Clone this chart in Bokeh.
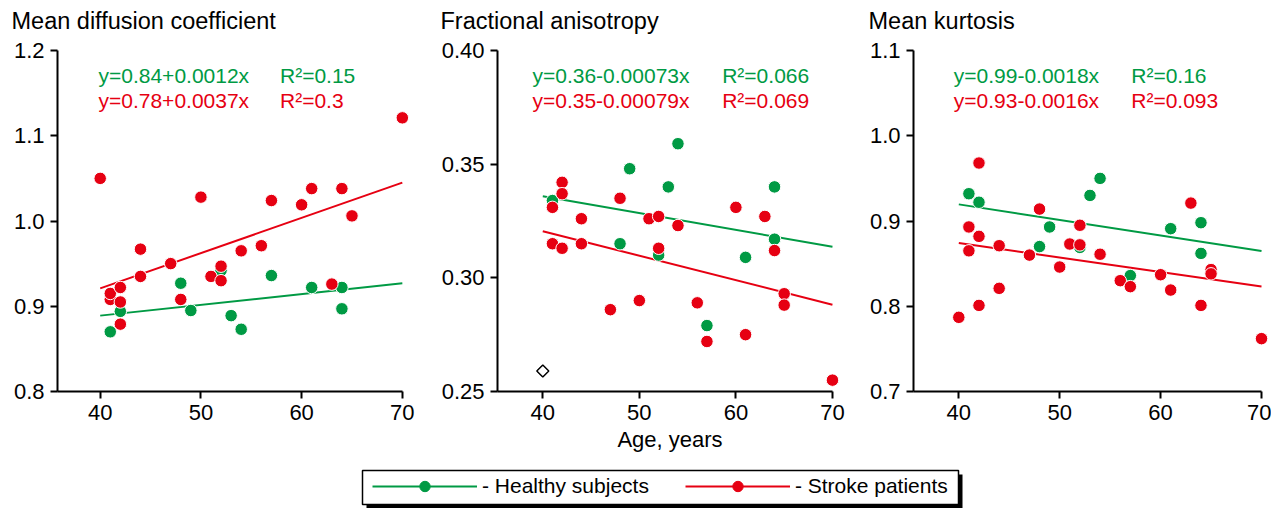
from bokeh.plotting import figure
from bokeh.models import Range1d, FixedTicker, Label, Legend, LegendItem, BoxAnnotation
from bokeh.layouts import row, column
from bokeh.embed import file_html
from bokeh.resources import INLINE

FONT = "Liberation Sans"
GREEN = "#009a44"
RED = "#e60012"

titles = ["Mean diffusion coefficient", "Fractional anisotropy", "Mean kurtosis"]

age_ticks = [40, 50, 60, 70]
age_tick_labels = ["40", "50", "60", "70"]
fit_age = [40, 70]

# ---- Mean diffusion coefficient ----
md_ticks = [0.8, 0.9, 1.0, 1.1, 1.2]
md_tick_labels = ["0.8", "0.9", "1.0", "1.1", "1.2"]
md_healthy_age = [41, 42, 48, 49, 52, 53, 54, 57, 61, 64, 64]
md_healthy = [0.870, 0.894, 0.927, 0.895, 0.942, 0.889, 0.873, 0.936, 0.922, 0.922, 0.897]
md_stroke_age = [40, 41, 41, 42, 42, 42, 44, 44, 47, 48, 50, 51, 52, 52, 54, 56, 57, 60, 61, 63, 64, 65, 70]
md_stroke = [1.050, 0.908, 0.915, 0.922, 0.905, 0.879, 0.967, 0.935, 0.950, 0.908, 1.028, 0.935,
             0.947, 0.930, 0.965, 0.971, 1.024, 1.019, 1.038, 0.926, 1.038, 1.006, 1.121]
md_fit_healthy = [0.889, 0.927]
md_fit_stroke = [0.921, 1.045]
md_eq = ["y=0.84+0.0012x", "y=0.78+0.0037x"]
md_r2 = ["R\u00b2=0.15", "R\u00b2=0.3"]

# ---- Fractional anisotropy ----
fa_ticks = [0.25, 0.30, 0.35, 0.40]
fa_tick_labels = ["0.25", "0.30", "0.35", "0.40"]
fa_healthy_age = [41, 48, 49, 52, 53, 54, 57, 61, 64, 64]
fa_healthy = [0.334, 0.315, 0.348, 0.310, 0.340, 0.359, 0.279, 0.309, 0.340, 0.317]
fa_stroke_age = [41, 41, 42, 42, 42, 44, 44, 47, 48, 50, 51, 52, 52, 54, 56, 57, 60, 61, 63, 64, 65, 65, 70]
fa_stroke = [0.331, 0.315, 0.342, 0.337, 0.313, 0.326, 0.315, 0.286, 0.335, 0.290, 0.326, 0.327,
             0.313, 0.323, 0.289, 0.272, 0.331, 0.275, 0.327, 0.312, 0.293, 0.288, 0.255]
fa_fit_healthy = [0.3359, 0.3137]
fa_fit_stroke = [0.3205, 0.2882]
fa_outlier_age = [40]
fa_outlier = [0.259]
fa_eq = ["y=0.36-0.00073x", "y=0.35-0.00079x"]
fa_r2 = ["R\u00b2=0.066", "R\u00b2=0.069"]

# ---- Mean kurtosis ----
mk_ticks = [0.7, 0.8, 0.9, 1.0, 1.1]
mk_tick_labels = ["0.7", "0.8", "0.9", "1.0", "1.1"]
mk_healthy_age = [41, 42, 48, 49, 52, 53, 54, 57, 61, 64, 64]
mk_healthy = [0.932, 0.922, 0.870, 0.893, 0.869, 0.930, 0.950, 0.836, 0.891, 0.898, 0.862]
mk_stroke_age = [40, 41, 41, 42, 42, 42, 44, 44, 47, 48, 50, 51, 52, 52, 54, 56, 57, 60, 61, 63, 64, 65, 65, 70]
mk_stroke = [0.787, 0.893, 0.865, 0.968, 0.882, 0.801, 0.871, 0.821, 0.860, 0.914, 0.846, 0.873,
             0.895, 0.872, 0.861, 0.830, 0.823, 0.837, 0.819, 0.921, 0.801, 0.843, 0.838, 0.762]
mk_fit_healthy = [0.9195, 0.8647]
mk_fit_stroke = [0.8741, 0.8233]
mk_eq = ["y=0.99-0.0018x", "y=0.93-0.0016x"]
mk_r2 = ["R\u00b2=0.16", "R\u00b2=0.093"]

legend_labels = ["- Healthy subjects", "- Stroke patients"]

TOTAL_W = 1271
TITLE_H = 38
FRAME_H = 341
TOP_B = 12
FIG_H = 417


def make_panel(width, mbl, mbr, xr, yr, yticks, ylabels,
               h_age, h_val, s_age, s_val, fit_h, fit_s, eqs, r2s, eq_x, r2_x, xlabel=None):
    p = figure(width=width, height=FIG_H, x_range=Range1d(*xr), y_range=Range1d(*yr),
               toolbar_location=None, output_backend="svg",
               min_border_left=mbl, min_border_right=mbr, min_border_top=TOP_B,
               min_border_bottom=FIG_H - TOP_B - FRAME_H)
    p.grid.visible = False
    p.outline_line_color = None
    p.background_fill_color = "white"
    p.border_fill_color = "white"

    p.xaxis.ticker = FixedTicker(ticks=age_ticks)
    p.xaxis.major_label_overrides = dict(zip(age_ticks, age_tick_labels))
    p.xaxis.bounds = (xr[0], 70)
    p.yaxis.ticker = FixedTicker(ticks=yticks)
    p.yaxis.major_label_overrides = dict(zip(yticks, ylabels))
    for ax in (p.xaxis, p.yaxis):
        ax.axis_line_width = 2
        ax.axis_line_color = "black"
        ax.major_tick_line_width = 2
        ax.major_tick_line_color = "black"
        ax.major_tick_out = 7
        ax.major_tick_in = 0
        ax.minor_tick_line_color = None
        ax.major_label_text_font = FONT
        ax.major_label_text_font_size = "22px"
        ax.major_label_text_color = "black"
        ax.major_label_standoff = 6
    if xlabel:
        p.xaxis.axis_label = xlabel
        p.xaxis.axis_label_text_font = FONT
        p.xaxis.axis_label_text_font_size = "22px"
        p.xaxis.axis_label_text_font_style = "normal"
        p.xaxis.axis_label_text_color = "black"
        p.xaxis.axis_label_standoff = 4

    p.line(fit_age, fit_h, line_color=GREEN, line_width=2)
    p.line(fit_age, fit_s, line_color=RED, line_width=2)
    p.scatter(h_age, h_val, size=12.5, fill_color=GREEN, line_color="white", line_width=1)
    p.scatter(s_age, s_val, size=12.5, fill_color=RED, line_color="white", line_width=1)

    span = yr[1] - yr[0]
    ys = [yr[1] - span * 25 / FRAME_H, yr[1] - span * 50 / FRAME_H]
    for txt, r2, y, c in zip(eqs, r2s, ys, [GREEN, RED]):
        for t, x in ((txt, eq_x), (r2, r2_x)):
            p.add_layout(Label(x=x, y=y, text=t, text_color=c, text_font=FONT,
                               text_font_size="21px", text_baseline="middle", text_align="left"))
    return p


# panel geometry: (width, left border, right border)
geom = [(430, 57, 18), (420, 67, 8), (421, 63, 0)]
title_offsets = [-46, -57, -45]

p1 = make_panel(*geom[0], (35.76, 71.01), (0.8, 1.2),
                md_ticks, md_tick_labels, md_healthy_age, md_healthy, md_stroke_age, md_stroke,
                md_fit_healthy, md_fit_stroke, md_eq, md_r2, 39.83, 57.85)
p2 = make_panel(*geom[1], (35.31, 71.04), (0.25, 0.40),
                fa_ticks, fa_tick_labels, fa_healthy_age, fa_healthy, fa_stroke_age, fa_stroke,
                fa_fit_healthy, fa_fit_stroke, fa_eq, fa_r2, 38.93, 58.58, xlabel="Age, years")
p2.scatter(fa_outlier_age, fa_outlier, marker="square", angle=0.785398, size=8.5,
           fill_color="white", line_color="black", line_width=1.5)
p3 = make_panel(*geom[2], (35.51, 70.99), (0.7, 1.1),
                mk_ticks, mk_tick_labels, mk_healthy_age, mk_healthy, mk_stroke_age, mk_stroke,
                mk_fit_healthy, mk_fit_stroke, mk_eq, mk_r2, 39.5, 57.09)

# ---- title strip (pixel coordinates) ----
ts = figure(width=TOTAL_W, height=TITLE_H, x_range=Range1d(0, TOTAL_W), y_range=Range1d(0, TITLE_H),
            toolbar_location=None, output_backend="svg", min_border=0,
            x_axis_type=None, y_axis_type=None)
ts.grid.visible = False
ts.outline_line_color = None
left = 0
for t, (w, mbl, mbr), off in zip(titles, geom, title_offsets):
    ts.add_layout(Label(x=left + mbl + off, y=TITLE_H - 20, text=t, text_color="black",
                        text_font=FONT, text_font_size="23.5px", text_baseline="middle",
                        text_align="left"))
    left += w

# ---- legend strip ----
LH = 53
lg = figure(width=TOTAL_W, height=LH, x_range=Range1d(0, TOTAL_W), y_range=Range1d(0, LH),
            toolbar_location=None, output_backend="svg", min_border=0,
            x_axis_type=None, y_axis_type=None)
lg.grid.visible = False
lg.outline_line_color = None
lg.add_layout(BoxAnnotation(left=366, right=962, bottom=0, top=34, fill_color="black",
                            fill_alpha=1, line_color=None))
lg.add_layout(BoxAnnotation(left=362, right=958, bottom=4, top=38, fill_color="white",
                            fill_alpha=1, line_color="black", line_width=1.5, line_alpha=1))
nan = float("nan")
gl = lg.line(x=[nan], y=[nan], line_color=GREEN, line_width=2)
gs = lg.scatter(x=[nan], y=[nan], fill_color=GREEN, line_color=GREEN)
rl = lg.line(x=[nan], y=[nan], line_color=RED, line_width=2)
rs = lg.scatter(x=[nan], y=[nan], fill_color=RED, line_color=RED)
legend = Legend(items=[LegendItem(label=legend_labels[0], renderers=[gl, gs]),
                       LegendItem(label=legend_labels[1], renderers=[rl, rs])],
                location=(372, 9), orientation="horizontal", glyph_width=105, glyph_height=26,
                label_height=26, label_standoff=5, spacing=36, padding=0, margin=0,
                border_line_alpha=0, background_fill_alpha=0, label_text_font=FONT,
                label_text_font_size="21px", label_text_color="black")
lg.add_layout(legend)

layout = column(ts, row(p1, p2, p3), lg)
open("out.html", "w").write(file_html(layout, INLINE))
